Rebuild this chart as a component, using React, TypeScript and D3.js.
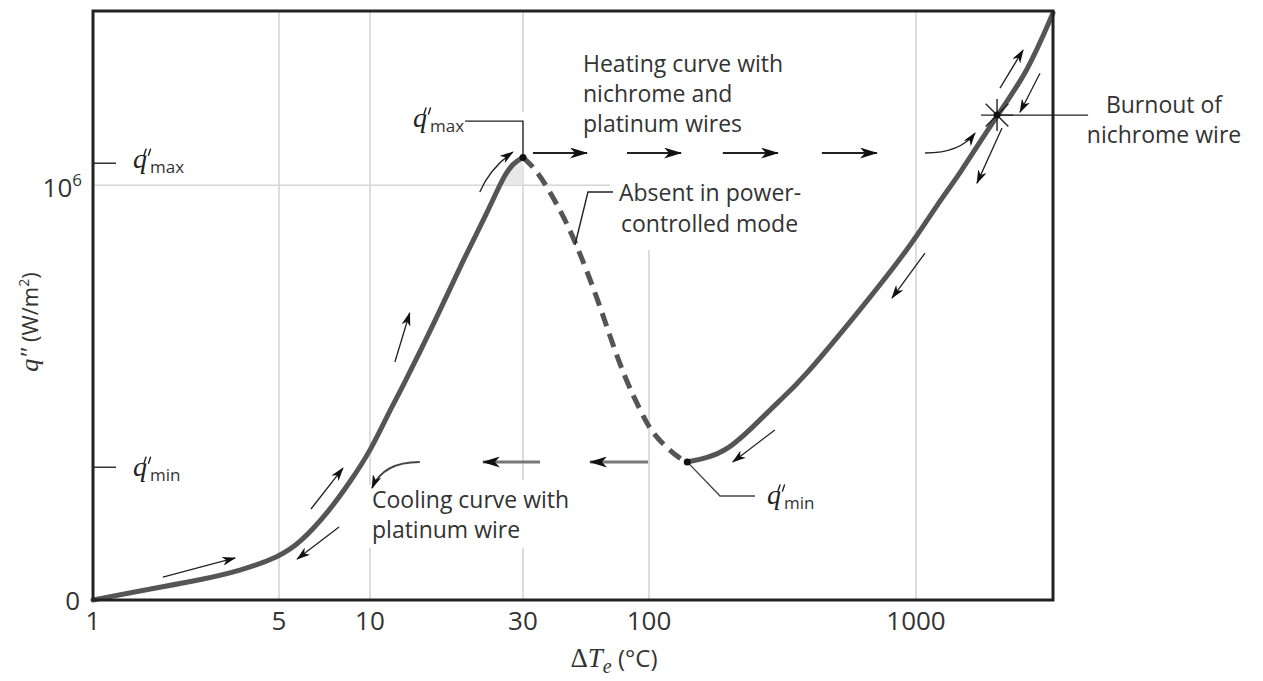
import React from "react";
import * as d3 from "d3";

// ---------- data ----------
const xTickValues = [1, 5, 10, 30, 100, 1000];
const xTickLabels = ["1", "5", "10", "30", "100", "1000"];
const xDomainEnd = 3250;
const qTop = 1.42e6;

// nucleate boiling (solid, left)
const nucleateDT = [1, 1.64, 2.52, 3.57, 5, 5.87, 7.38, 8.59, 10, 11.5, 12.4, 16.2, 19.5, 23.2, 26.0, 27.9, 30];
const nucleateQ = [0, 0.0265e6, 0.048e6, 0.07e6, 0.104e6, 0.137e6, 0.217e6, 0.285e6, 0.357e6, 0.455e6, 0.501e6, 0.682e6, 0.819e6, 0.933e6, 1.019e6, 1.053e6, 1.067e6];
// transition boiling (dashed)
const transitionDT = [30, 34.3, 40, 45.7, 51.7, 60.8, 68.9, 79.5, 91.8, 102, 117, 131, 139];
const transitionQ = [1.067e6, 1.036e6, 0.971e6, 0.908e6, 0.836e6, 0.73e6, 0.635e6, 0.535e6, 0.458e6, 0.405e6, 0.366e6, 0.34e6, 0.333e6];
// film boiling (solid, right)
const filmDT = [139, 165, 196, 239, 309, 368, 617, 950, 1229, 1423, 2008, 2600, 3250];
const filmQ = [0.333e6, 0.342e6, 0.361e6, 0.41e6, 0.482e6, 0.525e6, 0.699e6, 0.851e6, 0.964e6, 1.017e6, 1.169e6, 1.27e6, 1.415e6];

const qMaxTick = 1.053e6;
const qMinTick = 0.32e6;
const peakPoint: [number, number] = [30, 1.067e6];
const minPoint: [number, number] = [139, 0.333e6];
const burnoutPoint: [number, number] = [2008, 1.169e6];

// annotation arrows in data coordinates [ΔT, q]
const thinArrows: [number, number][][] = [
  [[1.83, 0.0554e6], [3.42, 0.1013e6]],
  [[6.38, 0.2194e6], [8.14, 0.318e6]],
  [[7.9, 0.176e6], [5.74, 0.0988e6]],
  [[11.96, 0.5737e6], [13.3, 0.6919e6]],
  [[1081, 0.8365e6], [813, 0.728e6]],
  [[296, 0.4098e6], [206, 0.3327e6]],
  [[2060, 1.234e6], [2512, 1.326e6]],
  [[2906, 1.27e6], [2447, 1.176e6]],
  [[2096, 1.138e6], [1690, 1.005e6]],
];
const curvedArrows: [number, number][][] = [
  [[22.0, 0.9836e6], [23.7, 1.0415e6], [27.9, 1.08e6]],
  [[1081, 1.0776e6], [1460, 1.0776e6], [1662, 1.1256e6]],
  [[14.3, 0.3327e6], [10.98, 0.3327e6], [10.15, 0.27e6]],
];
const heatingArrows: [number, number][][] = [
  [[33.0, 1.0776e6], [55.3, 1.0776e6]],
  [[81.0, 1.0776e6], [131.8, 1.0776e6]],
  [[189, 1.0776e6], [304, 1.0776e6]],
  [[444, 1.0776e6], [714, 1.0776e6]],
];
const coolingArrows: [number, number][][] = [
  [[35.3, 0.3327e6], [22.5, 0.3327e6]],
  [[99.1, 0.3327e6], [56.9, 0.3327e6]],
];
// leader lines
const leaderQmax: [number, number][] = [[19.8, 1.1545e6], [30, 1.1545e6], peakPoint];
const leaderQmin: [number, number][] = [minPoint, [184.5, 0.2507e6], [249.5, 0.2507e6]];
const leaderAbsent: [number, number][] = [[70.9, 0.9836e6], [55.8, 0.9836e6], [49.3, 0.8558e6]];
const leaderBurnout: [number, number][] = [burnoutPoint, [4395, 1.169e6]];

// grid segments (q ranges)
const gridV: { v: number; segs: [number, number][] }[] = [
  { v: 5, segs: [[0, qTop]] },
  { v: 10, segs: [[0, 0.1253e6], [0.2772e6, qTop]] },
  { v: 30, segs: [[0, 0.1253e6], [0.2893e6, 1.0487e6], [1.176e6, qTop]] },
  { v: 100, segs: [[0, 0.8437e6]] },
  { v: 1000, segs: [[0, qTop]] },
];
const gridH = { q: 1.0e6, x0: 1, x1: 68.9 };

const SANS = "'Open Sans', 'Liberation Sans', sans-serif";
const SERIF = "'Liberation Serif', 'DejaVu Serif', serif";

function QLabel({ x, y, sub }: { x: number; y: number; sub: string }) {
  return (
    <g>
      <text x={x} y={y} fill="#222">
        <tspan fontFamily={SERIF} fontStyle="italic" fontSize={28}>q</tspan>
        <tspan fontFamily={SANS} fontSize={17} fill="#333" dx={3} dy={5}>{sub}</tspan>
      </text>
      <g stroke="#222" strokeWidth={1.4} strokeLinecap="round">
        <line x1={x + 13} y1={y - 19} x2={x + 11} y2={y - 13} />
        <line x1={x + 17.5} y1={y - 19} x2={x + 15.5} y2={y - 13} />
      </g>
    </g>
  );
}

export default function App() {
  const plotL = 93, plotR = 1053, plotT = 11, plotB = 600;
  const breakFrac = [0, 0.19375, 0.2885, 0.4479, 0.5792, 0.8573, 1];
  const x = d3
    .scaleLog()
    .domain([...xTickValues, xDomainEnd])
    .range(breakFrac.map((f) => plotL + f * (plotR - plotL)));
  const y = d3.scaleLinear().domain([0, qTop]).range([plotB, plotT]);

  const zip = (a: number[], b: number[]) => a.map((v, i) => [v, b[i]] as [number, number]);
  const line = d3
    .line<[number, number]>()
    .x((d) => x(d[0]))
    .y((d) => y(d[1]))
    .curve(d3.curveBasis);
  const poly = d3
    .line<[number, number]>()
    .x((d) => x(d[0]))
    .y((d) => y(d[1]));
  const quad = (p: [number, number][]) => {
    const path = d3.path();
    path.moveTo(x(p[0][0]), y(p[0][1]));
    path.quadraticCurveTo(x(p[1][0]), y(p[1][1]), x(p[2][0]), y(p[2][1]));
    return path.toString();
  };
  const nucleate = zip(nucleateDT, nucleateQ);
  const transition = zip(transitionDT, transitionQ);
  const film = zip(filmDT, filmQ);

  const shadeArea = d3
    .area<[number, number]>()
    .x((d) => x(d[0]))
    .y0(y(gridH.q))
    .y1((d) => y(d[1]))
    .curve(d3.curveBasis);

  const bx = x(burnoutPoint[0]);
  const by = y(burnoutPoint[1]);
  const star = [0, 45, 90, 135].map((a) => {
    const r = (a * Math.PI) / 180;
    return { x1: bx - 16 * Math.cos(r), y1: by - 16 * Math.sin(r), x2: bx + 16 * Math.cos(r), y2: by + 16 * Math.sin(r) };
  });

  return (
    <svg width={1263} height={681} style={{ position: "absolute", left: 0, top: 0, background: "#fff" }}>
      <defs>
        <marker id="hs" viewBox="0 0 14 9" refX={13} refY={4.5} markerWidth={14} markerHeight={9} markerUnits="userSpaceOnUse" orient="auto">
          <path d="M0,0 L14,4.5 L0,9 L4,4.5 Z" fill="#111" />
        </marker>
        <marker id="hb" viewBox="0 0 18 11" refX={17} refY={5.5} markerWidth={18} markerHeight={11} markerUnits="userSpaceOnUse" orient="auto">
          <path d="M0,0 L18,5.5 L0,11 L5,5.5 Z" fill="#111" />
        </marker>
        <clipPath id="shadeClip">
          <rect x={plotL} y={plotT} width={x(30) - plotL} height={y(gridH.q) - plotT} />
        </clipPath>
      </defs>

      {/* grid */}
      <g stroke="#d4d4d4" strokeWidth={1.6}>
        {gridV.map((g) =>
          g.segs.map((s, i) => <line key={`${g.v}-${i}`} x1={x(g.v)} x2={x(g.v)} y1={y(s[0])} y2={y(s[1])} />)
        )}
        <line x1={x(gridH.x0)} x2={x(gridH.x1)} y1={y(gridH.q)} y2={y(gridH.q)} />
      </g>

      {/* shaded area near peak */}
      <path d={shadeArea(nucleate) || ""} fill="#e8e8e8" clipPath="url(#shadeClip)" />

      {/* y ticks */}
      <g stroke="#333" strokeWidth={1.5}>
        <line x1={plotL} x2={plotL + 23} y1={y(qMaxTick)} y2={y(qMaxTick)} />
        <line x1={plotL} x2={plotL + 23} y1={y(qMinTick)} y2={y(qMinTick)} />
      </g>
      <QLabel x={133} y={y(qMaxTick) + 5} sub="max" />
      <QLabel x={133} y={y(qMinTick) + 9} sub="min" />

      {/* curves */}
      <path d={line(nucleate) || ""} fill="none" stroke="#555" strokeWidth={5} strokeLinecap="round" />
      <path d={line(transition) || ""} fill="none" stroke="#555" strokeWidth={5} strokeDasharray="14 8" />
      <path d={line(film) || ""} fill="none" stroke="#555" strokeWidth={5} strokeLinecap="round" />

      {/* leaders */}
      <g fill="none" stroke="#222" strokeWidth={1.4}>
        <path d={poly(leaderQmax) || ""} />
        <path d={poly(leaderQmin) || ""} stroke="#444" />
        <path d={poly(leaderAbsent) || ""} />
        <path d={poly(leaderBurnout) || ""} />
        {star.map((s, i) => (
          <line key={i} {...s} />
        ))}
      </g>

      {/* points */}
      {[peakPoint, minPoint, burnoutPoint].map((p, i) => (
        <circle key={i} cx={x(p[0])} cy={y(p[1])} r={3.5} fill="#111" />
      ))}

      {/* arrows */}
      <g fill="none" stroke="#222" strokeWidth={1.3}>
        {thinArrows.map((a, i) => (
          <path key={i} d={poly(a) || ""} markerEnd="url(#hs)" />
        ))}
        {curvedArrows.map((a, i) => (
          <path key={i} d={quad(a)} markerEnd="url(#hs)" stroke={i === 2 ? "#444" : "#222"} strokeWidth={i === 2 ? 1.8 : 1.3} />
        ))}
        {heatingArrows.map((a, i) => (
          <path key={i} d={poly(a) || ""} markerEnd="url(#hb)" strokeWidth={2.2} />
        ))}
        {coolingArrows.map((a, i) => (
          <path key={i} d={poly(a) || ""} markerEnd="url(#hb)" stroke="#777" strokeWidth={3} />
        ))}
      </g>

      {/* frame */}
      <rect x={plotL} y={plotT} width={plotR - plotL} height={plotB - plotT} fill="none" stroke="#222" strokeWidth={3} />

      {/* x tick labels */}
      <g fontFamily={SANS} fontSize={26} fill="#333" textAnchor="middle">
        {xTickValues.map((v, i) => (
          <text key={v} x={x(v)} y={plotB + 30}>
            {xTickLabels[i]}
          </text>
        ))}
      </g>
      {/* y tick labels */}
      <g fontFamily={SANS} fontSize={26} fill="#333" textAnchor="end">
        <text x={80} y={y(0) + 10}>0</text>
        <text x={82} y={y(1e6) + 12}>
          10<tspan dy={-11} fontSize={17}>6</tspan>
        </text>
      </g>

      {/* axis titles */}
      <text x={614} y={667} textAnchor="middle" fill="#333" fontSize={27}>
        <tspan fontFamily={SERIF}>Δ</tspan>
        <tspan fontFamily={SERIF} fontStyle="italic">T</tspan>
        <tspan fontFamily={SERIF} fontStyle="italic" fontSize={20} dy={6}>e</tspan>
        <tspan fontFamily={SANS} fontSize={24} dy={-6}> (°C)</tspan>
      </text>
      <text transform="translate(38,322) rotate(-90)" textAnchor="middle" fill="#333" fontSize={22}>
        <tspan fontFamily={SERIF} fontStyle="italic" fontSize={26}>q″</tspan>
        <tspan fontFamily={SANS}>  (W/m</tspan>
        <tspan fontFamily={SANS} fontSize={14} dy={-9}>2</tspan>
        <tspan fontFamily={SANS} dy={9}>)</tspan>
      </text>

      {/* annotations */}
      <QLabel x={413} y={127} sub="max" />
      <QLabel x={767} y={504} sub="min" />
      <g fontFamily={SANS} fontSize={23} fill="#333">
        <text x={583} y={72}>Heating curve with</text>
        <text x={583} y={102}>nichrome and</text>
        <text x={583} y={132}>platinum wires</text>
        <text x={619} y={201}>Absent in power-</text>
        <text x={621} y={232}>controlled mode</text>
        <text x={372} y={508}>Cooling curve with</text>
        <text x={372} y={538}>platinum wire</text>
        <text x={1164} y={113} textAnchor="middle">Burnout of</text>
        <text x={1164} y={143} textAnchor="middle">nichrome wire</text>
      </g>
    </svg>
  );
}
